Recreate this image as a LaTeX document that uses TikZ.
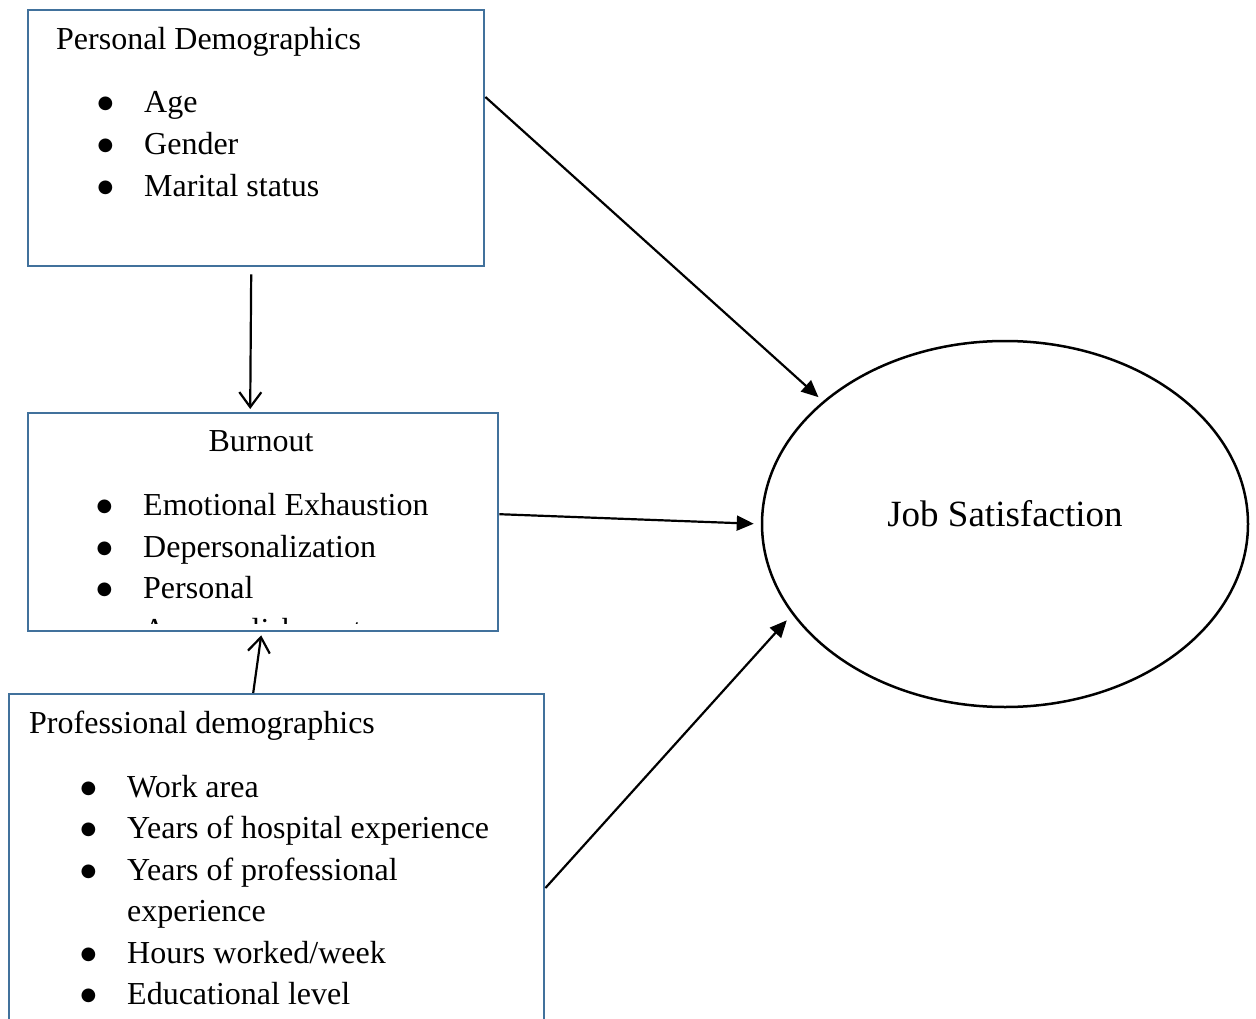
\documentclass[tikz,border=0pt]{standalone}
\usepackage{fontspec}
\setmainfont{Liberation Serif}
\newfontfamily\bulfont{DejaVu Sans}
\usetikzlibrary{shapes.geometric,arrows.meta,calc}
\definecolor{boxblue}{RGB}{65,113,156}
\tikzset{
  box/.style={draw=boxblue, line width=2.4pt, anchor=north west, inner sep=0pt, rectangle},
  txt/.style={inner sep=0pt, anchor=base west, font=\fontsize{32}{40}\selectfont},
  solidarrow/.style={draw=black, line width=2.2pt, -{Triangle[length=17pt,width=15pt]}},
  openarrow/.style={draw=black, line width=2.2pt, -{Straight Barb[length=15pt,width=22pt,line width=2.2pt]}},
}
\newcommand{\bulitem}{\makebox[46pt][l]{\hspace*{-0.5pt}\raisebox{4pt}{\bulfont\fontsize{18}{18}\selectfont ●}}}
\begin{document}
\begin{tikzpicture}[x=1pt,y=-1pt]
\clip (0,0) rectangle (1256,1019);
\fill[white] (0,0) rectangle (1256,1019);

% boxes
\node[box, minimum width=456pt, minimum height=256pt] (pd) at (27,9) {};
\node[box, minimum width=470pt, minimum height=218pt] (bo) at (27,412) {};
\node[box, minimum width=535pt, minimum height=400pt] (pf) at (8,693) {};
\node[draw=black, line width=2.5pt, ellipse, inner sep=0pt, minimum width=486pt, minimum height=366pt] (js) at (1005,524) {};

% personal demographics
\node[txt] (pdt) at (56,50) {Personal Demographics};
\node[txt] (pd1) at (98,113) {\bulitem Age};
\node[txt] (pd2) at (98,155) {\bulitem Gender};
\node[txt] (pd3) at (98,197) {\bulitem Marital status};

% burnout
\node[txt, anchor=base] (bot) at (261,451) {Burnout};
\node[txt] (bo1) at (97,515) {\bulitem Emotional Exhaustion};
\node[txt] (bo2) at (97,557) {\bulitem Depersonalization};
\node[txt] (bo3) at (97,598) {\bulitem Personal};
\begin{scope}
  \clip (28,413) rectangle (496,623);
  \node[txt] (bo4) at (143,640) {Accomplishment};
\end{scope}

% professional demographics
\node[txt] (pft) at (29,733) {Professional demographics};
\node[txt] (pf1) at (81,797) {\bulitem Work area};
\node[txt] (pf2) at (81,838) {\bulitem Years of hospital experience};
\node[txt] (pf3) at (81,880) {\bulitem Years of professional};
\node[txt] (pf3b) at (127,921) {experience};
\node[txt] (pf4) at (81,963) {\bulitem Hours worked/week};
\node[txt] (pf5) at (81,1004) {\bulitem Educational level};

% job satisfaction
\node[inner sep=0pt, anchor=base, font=\fontsize{37}{44}\selectfont] (jst) at (1005,526) {Job Satisfaction};

% connectors
\draw[solidarrow, shorten >=6pt] ([yshift=-88pt]pd.north east) -- (js.146);
\draw[openarrow] ([xshift=-5pt,yshift=-7pt]pd.south) -- ([xshift=-13pt,yshift=3pt]bo.north);
\draw[solidarrow, shorten >=7pt] ([yshift=8pt]bo.east) -- (js.west);
\draw[openarrow] ([xshift=-23.5pt]pf.north) -- ([xshift=-2pt,yshift=-3pt]bo.south);
\draw[solidarrow, shorten >=8pt] ([yshift=-195pt]pf.north east) -- (js.203);
\end{tikzpicture}
\end{document}
